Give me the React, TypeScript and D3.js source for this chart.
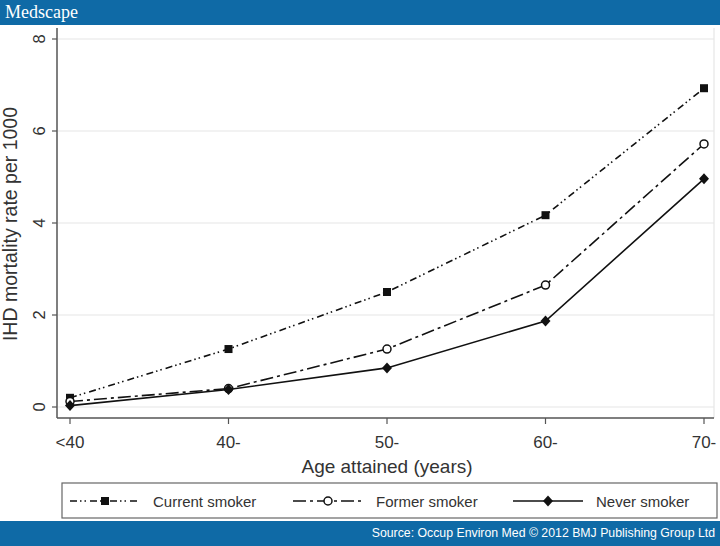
import React, { useRef, useEffect } from 'react';
import * as d3 from 'd3';

// age groups on the x axis
const ageGroups = ['<40', '40-', '50-', '60-', '70-'];
const yTicks = [0, 2, 4, 6, 8];

const currentSmoker = [0.2, 1.26, 2.5, 4.17, 6.93];
const formerSmoker = [0.12, 0.4, 1.26, 2.65, 5.72];
const neverSmoker = [0.03, 0.38, 0.85, 1.87, 4.96];

const seriesNames = ['Current smoker', 'Former smoker', 'Never smoker'];

const W = 720;
const H = 546;
const BLUE = '#0f6aa6';
const FONT = '"Liberation Sans", Arial, sans-serif';

export default function App() {
  const svgRef = useRef<SVGSVGElement>(null);

  useEffect(() => {
    if (!svgRef.current) return;
    const svg = d3.select(svgRef.current);
    svg.selectAll('*').remove();

    svg.append('rect').attr('width', W).attr('height', H).attr('fill', '#fff');

    // header / footer bars
    svg.append('rect').attr('x', 0).attr('y', 0).attr('width', W).attr('height', 25).attr('fill', BLUE);
    svg.append('text')
      .attr('x', 5).attr('y', 18)
      .attr('font-family', '"Liberation Serif", "DejaVu Serif", serif')
      .attr('font-size', 18)
      .attr('fill', '#fff')
      .text('Medscape');
    svg.append('rect').attr('x', 0).attr('y', 521).attr('width', W).attr('height', 25).attr('fill', BLUE);
    svg.append('text')
      .attr('x', 715).attr('y', 537)
      .attr('text-anchor', 'end')
      .attr('font-family', FONT)
      .attr('font-size', 12.3)
      .attr('fill', '#fff')
      .text('Source: Occup Environ Med \u00a9 2012 BMJ Publishing Group Ltd');

    const plot = { left: 57, right: 714, top: 28, bottom: 418 };

    const x = d3.scalePoint<string>()
      .domain(ageGroups)
      .range([70, 704]);
    const y = d3.scaleLinear().domain([0, 8]).range([407, 39]);

    // gridlines
    yTicks.forEach((t) => {
      svg.append('line')
        .attr('x1', plot.left + 1).attr('x2', plot.right)
        .attr('y1', y(t)).attr('y2', y(t))
        .attr('stroke', '#e6e6e6').attr('stroke-width', 1.2);
    });
    // right border of plot region (faint)
    svg.append('line')
      .attr('x1', plot.right).attr('x2', plot.right)
      .attr('y1', plot.top).attr('y2', plot.bottom)
      .attr('stroke', '#e6e6e6').attr('stroke-width', 1.2);

    // axes
    svg.append('line')
      .attr('x1', plot.left).attr('x2', plot.left)
      .attr('y1', plot.top).attr('y2', plot.bottom)
      .attr('stroke', '#555').attr('stroke-width', 1.5);
    svg.append('line')
      .attr('x1', plot.left).attr('x2', plot.right)
      .attr('y1', plot.bottom).attr('y2', plot.bottom)
      .attr('stroke', '#555').attr('stroke-width', 1.5);

    yTicks.forEach((t) => {
      svg.append('line')
        .attr('x1', plot.left - 5).attr('x2', plot.left)
        .attr('y1', y(t)).attr('y2', y(t))
        .attr('stroke', '#555').attr('stroke-width', 1.2);
      svg.append('text')
        .attr('transform', `translate(${plot.left - 12},${y(t)}) rotate(-90)`)
        .attr('text-anchor', 'middle')
        .attr('font-family', FONT)
        .attr('font-size', 16.5)
        .attr('fill', '#333')
        .text(t);
    });

    ageGroups.forEach((a) => {
      const xp = x(a)!;
      svg.append('line')
        .attr('x1', xp).attr('x2', xp)
        .attr('y1', plot.bottom).attr('y2', plot.bottom + 6)
        .attr('stroke', '#555').attr('stroke-width', 1.2);
      svg.append('text')
        .attr('x', xp).attr('y', 448)
        .attr('text-anchor', 'middle')
        .attr('font-family', FONT)
        .attr('font-size', 17)
        .attr('fill', '#333')
        .text(a);
    });

    svg.append('text')
      .attr('x', 387).attr('y', 473)
      .attr('text-anchor', 'middle')
      .attr('font-family', FONT)
      .attr('font-size', 19)
      .attr('fill', '#333')
      .text('Age attained (years)');
    svg.append('text')
      .attr('transform', `translate(17,224) rotate(-90)`)
      .attr('text-anchor', 'middle')
      .attr('font-family', FONT)
      .attr('font-size', 19.5)
      .attr('fill', '#333')
      .text('IHD mortality rate per 1000');

    const dashes = ['7,3,1.5,3,1.5,4', '13,4,3,4', 'none'];
    const allSeries = [currentSmoker, formerSmoker, neverSmoker];

    const line = d3.line<number>()
      .x((_, i) => x(ageGroups[i])!)
      .y((d) => y(d));

    const drawMarker = (g: d3.Selection<SVGGElement, unknown, null, undefined>, k: number, cx: number, cy: number) => {
      if (k === 0) {
        g.append('rect')
          .attr('x', cx - 4).attr('y', cy - 4)
          .attr('width', 8).attr('height', 8)
          .attr('fill', '#111');
      } else if (k === 1) {
        g.append('circle')
          .attr('cx', cx).attr('cy', cy).attr('r', 4)
          .attr('fill', '#fff').attr('stroke', '#111').attr('stroke-width', 1.5);
      } else {
        g.append('path')
          .attr('d', `M${cx},${cy - 5.5}L${cx + 5},${cy}L${cx},${cy + 5.5}L${cx - 5},${cy}Z`)
          .attr('fill', '#111');
      }
    };

    allSeries.forEach((data, k) => {
      svg.append('path')
        .datum(data)
        .attr('fill', 'none')
        .attr('stroke', '#111')
        .attr('stroke-width', 1.6)
        .attr('stroke-dasharray', dashes[k])
        .attr('d', line);
    });
    allSeries.forEach((data, k) => {
      const g = svg.append('g');
      data.forEach((v, i) => drawMarker(g, k, x(ageGroups[i])!, y(v)));
    });

    // legend
    svg.append('rect')
      .attr('x', 62).attr('y', 483).attr('width', 655).attr('height', 35)
      .attr('fill', '#fff').attr('stroke', '#666').attr('stroke-width', 1.2);
    const legendX = [70, 293, 513];
    seriesNames.forEach((name, k) => {
      const lx = legendX[k];
      const ly = 501;
      const g = svg.append('g');
      g.append('line')
        .attr('x1', lx).attr('x2', lx + 70)
        .attr('y1', ly).attr('y2', ly)
        .attr('stroke', '#111').attr('stroke-width', 1.6)
        .attr('stroke-dasharray', dashes[k]);
      drawMarker(g, k, lx + 35, ly);
      g.append('text')
        .attr('x', lx + 83).attr('y', ly + 5.5)
        .attr('font-family', FONT)
        .attr('font-size', 15)
        .attr('fill', '#333')
        .text(name);
    });
  }, []);

  return (
    <svg
      ref={svgRef}
      width={W}
      height={H}
      style={{ position: 'absolute', left: 0, top: 0, display: 'block' }}
    />
  );
}
